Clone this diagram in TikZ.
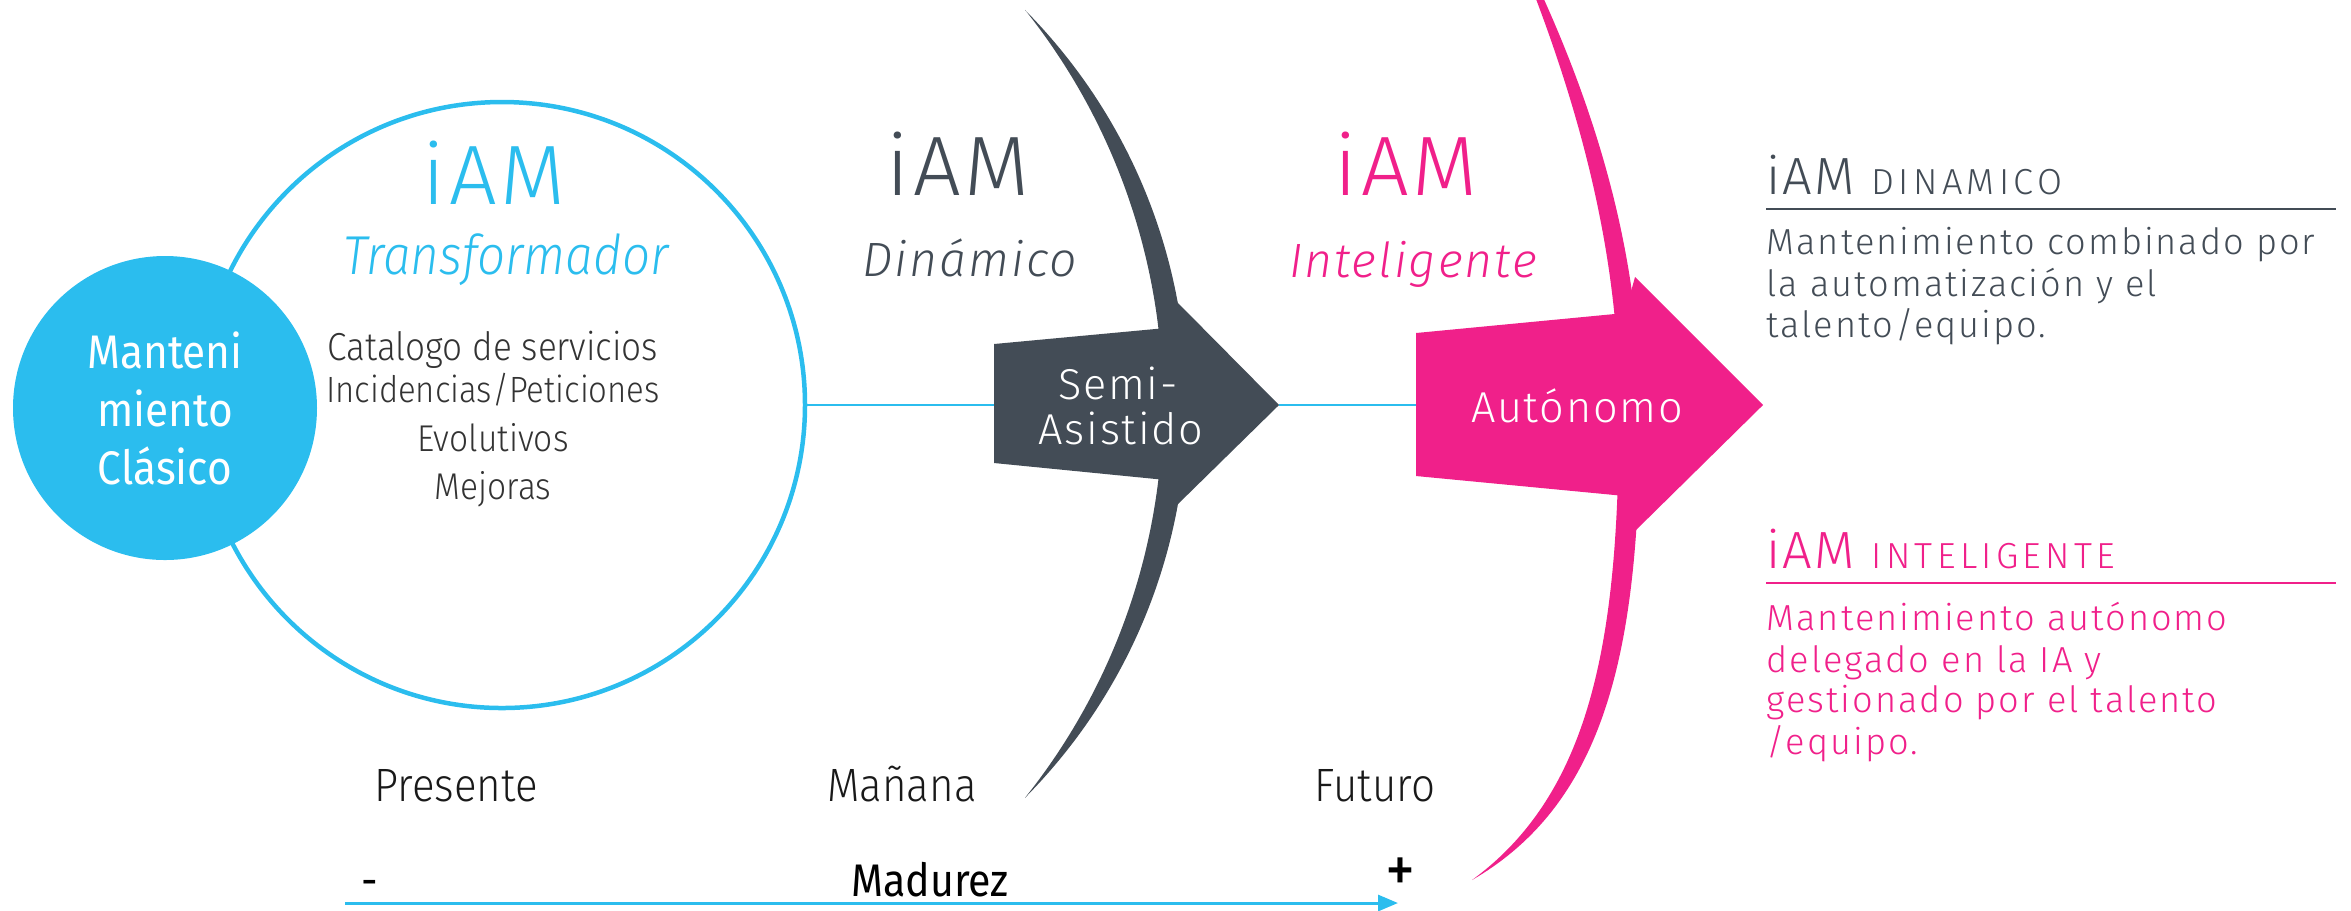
\documentclass[tikz,border=0pt]{standalone}
\usepackage{fontspec}
\setmainfont{Fira Sans}
\newfontfamily\iamfont{Fira Sans}[UprightFont=* Light, ItalicFont=* Light Italic, LetterSpace=4]
\newfontfamily\capsfont{Fira Sans}[UprightFont=* Light, LetterSpace=12]
\newfontfamily\rfont{Fira Sans}[UprightFont=* Light, LetterSpace=5.5]
\newfontfamily\condfont{Fira Sans}[UprightFont=* Light, ItalicFont=* Light Italic, FakeStretch=0.9]
\newfontfamily\condregfont{Fira Sans}[FakeStretch=0.9]
\usepackage {tikz}
\usetikzlibrary {positioning}
\usetikzlibrary{arrows.meta}

\definecolor{iamcyan}{HTML}{2BBDEE}
\definecolor{iamdark}{HTML}{434C56}
\definecolor{iampink}{HTML}{F0208A}
\definecolor{itemgray}{HTML}{333333}

\begin{document}
\begin{tikzpicture}[x=0.1mm, y=-0.1mm,
	hd/.style={inner sep=0pt, anchor=base, font=\iamfont\fontsize{24}{24}\selectfont},
	sub/.style={inner sep=0pt, anchor=base, font=\iamfont\itshape\fontsize{13.7}{14}\selectfont},
	subc/.style={inner sep=0pt, anchor=base, font=\condfont\itshape\fontsize{15.6}{16}\selectfont},
	item/.style={inner sep=0pt, anchor=base, text=itemgray, font=\condfont\fontsize{10.6}{12}\selectfont},
	inarrow/.style={inner sep=0pt, anchor=base, text=white, font=\iamfont\fontsize{12.3}{14}\selectfont},
	when/.style={inner sep=0pt, anchor=base, text=black!90, font=\condfont\fontsize{13.3}{14}\selectfont},
	axis/.style={inner sep=0pt, anchor=base, text=black, font=\condregfont\fontsize{13}{14}\selectfont},
	rhead/.style={inner sep=0pt, anchor=base west, font=\iamfont\fontsize{14.9}{16}\selectfont},
	rtext/.style={inner sep=0pt, anchor=base west, font=\rfont\fontsize{10.3}{12}\selectfont},
	link/.style={iamcyan, line width=0.2mm}
	]
	\useasboundingbox (0,0) rectangle (2351,910);

	% circles
	\node[circle, draw=iamcyan, line width=0.45mm, minimum size=60.6mm, inner sep=0pt] (transf) at (502,405) {};
	\node[circle, fill=iamcyan, minimum size=30.4mm, inner sep=0pt, text=white, align=center,
		font=\condregfont\fontsize{13.4}{16.5}\selectfont] (clasico) at (165,408) {Manteni\\miento\\Clásico};

	% crescents and arrows
	\fill[iamdark] (1025,10) arc[start angle=-44.7, end angle=44.7, radius=560]
		arc[start angle=38.6, end angle=-38.6, radius=631.5] -- cycle;
	\fill[iamdark] (994,344) -- (1166,328) -- (1177,302) -- (1279,405) -- (1177,505) -- (1166,480) -- (994,463) -- cycle;
	\fill[iampink] (1500,-90) .. controls (1580,60) and (1640,230) .. (1640,405)
		.. controls (1640,640) and (1610,800) .. (1472,880)
		.. controls (1595,790) and (1619,630) .. (1619,405)
		.. controls (1619,220) and (1560,50) .. (1500,-90) -- cycle;
	\fill[iampink] (1416,333) -- (1625,313) -- (1635,277) -- (1763,405) -- (1635,531) -- (1625,496) -- (1416,476) -- cycle;

	\coordinate (semiL) at (994,405);
	\coordinate (semiTip) at (1279,405);
	\coordinate (autoL) at (1416,405);
	\draw[link] (transf.east) -- (semiL);
	\draw[link] (semiTip) -- (autoL);

	% titles
	\node[hd, text=iamcyan] (iamT) at (494,204) {iAM};
	\node[subc, text=iamcyan] (transT) at (506,274) {Transformador};
	\node[hd, text=iamdark] (iamD) at (958,195) {iAM};
	\node[sub, text=iamdark] (dinD) at (970,276) {Dinámico};
	\node[hd, text=iampink] (iamI) at (1406,195) {iAM};
	\node[sub, text=iampink] (intI) at (1413,277) {Inteligente};

	% services
	\node[item, font=\condfont\fontsize{11.1}{12}\selectfont] (cat) at (493,360) {Catalogo de servicios};
	\node[item, font=\condfont\fontsize{10.4}{12}\selectfont] (inc) at (493,402) {Incidencias/Peticiones};
	\node[item] (evo) at (493,451) {Evolutivos};
	\node[item] (mej) at (493,499) {Mejoras};

	% arrow labels
	\node[inarrow] (semi1) at (1118,399) {Semi-};
	\node[inarrow] (semi2) at (1121,444) {Asistido};
	\node[inarrow] (auto) at (1577,422) {Autónomo};

	% time line
	\node[when] (pres) at (456,801) {Presente};
	\node[when] (man) at (902,801) {Mañana};
	\node[when] (fut) at (1375,801) {Futuro};
	\node[axis] (minus) at (370,896) {-};
	\node[axis] (madurez) at (930,896) {Madurez};
	\node[axis, font=\condregfont\fontsize{19}{20}\selectfont] (plus) at (1400,892) {+};
	\coordinate (madL) at (345,903);
	\coordinate (madR) at (1398,903);
	\draw[iamcyan, line width=0.3mm, -{Triangle[length=2mm, width=1.6mm]}] (madL) -- (madR);

	% legend
	\node[rhead, text=iamdark] (dynT) at (1766,194) {iAM {\capsfont\fontsize{10.3}{12}\selectfont DINAMICO}};
	\draw[iamdark, line width=0.25mm] (1766,209) -- (2336,209);
	\node[rtext, text=iamdark] (dyn1) at (1766,254) {Mantenimiento combinado por};
	\node[rtext, text=iamdark] (dyn2) at (1766,296) {la automatización y el};
	\node[rtext, text=iamdark] (dyn3) at (1766,337) {talento/equipo.};

	\node[rhead, text=iampink] (intT) at (1766,568) {iAM {\capsfont\fontsize{10.3}{12}\selectfont INTELIGENTE}};
	\draw[iampink, line width=0.25mm] (1766,583) -- (2336,583);
	\node[rtext, text=iampink] (int1) at (1766,630) {Mantenimiento autónomo};
	\node[rtext, text=iampink] (int2) at (1766,672) {delegado en la IA y};
	\node[rtext, text=iampink] (int3) at (1766,712) {gestionado por el talento};
	\node[rtext, text=iampink] (int4) at (1766,754) {/equipo.};
\end{tikzpicture}
\end{document}
